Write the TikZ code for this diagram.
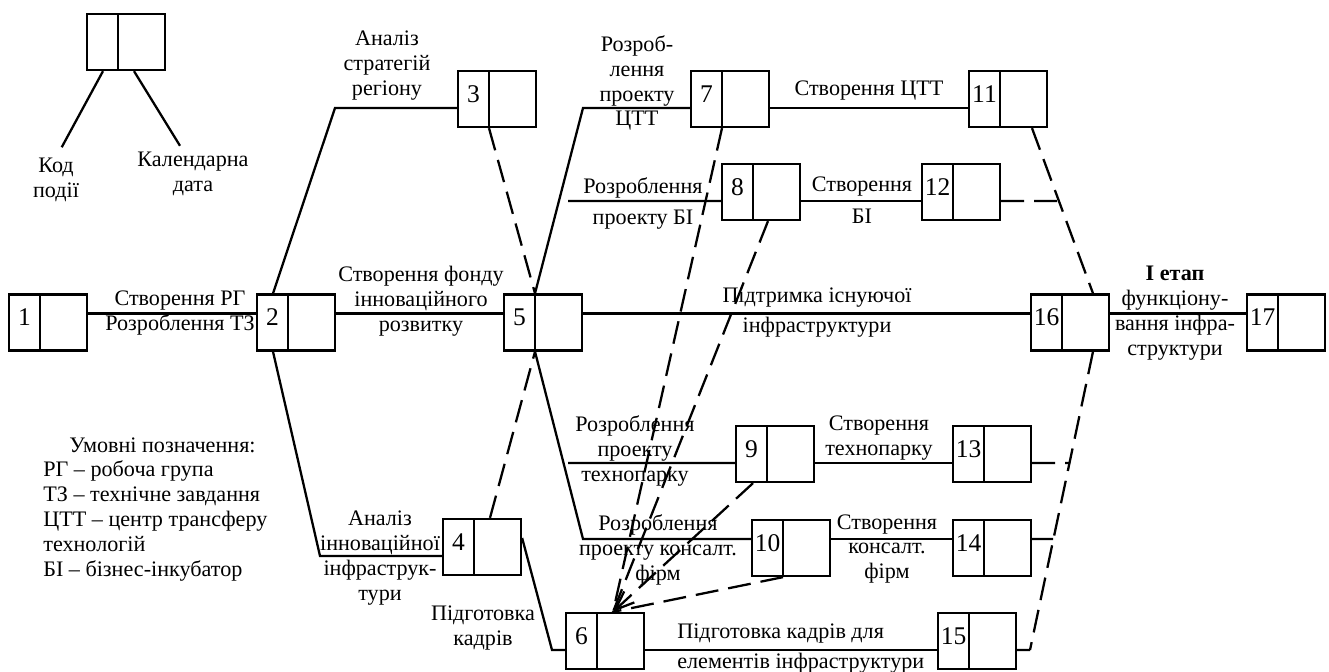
\documentclass[tikz,border=0pt]{standalone}
\usepackage{fontspec}
\setmainfont{Liberation Serif}
\usetikzlibrary{arrows.meta}
\tikzset{
  ev/.style={draw, line width=1.3pt, minimum width=1.56cm, minimum height=1.12cm, inner sep=0pt,
    path picture={\draw[line width=1.3pt] ([xshift=0.62cm]path picture bounding box.south west) -- ([xshift=0.62cm]path picture bounding box.north west);},
    label={[xshift=-0.47cm, yshift=0.1cm, font=\fontsize{14.5}{16}\selectfont]center:#1}},
  job/.style={line width=1.3pt},
  dep/.style={line width=1.3pt, dash pattern=on 0.46cm off 0.2cm},
  txt/.style={align=center, inner sep=0pt}
}

\begin{document}
\begin{tikzpicture}[x=0.02cm, y=-0.02cm, font=\fontsize{12.6}{14.2}\selectfont]
	\useasboundingbox (0,0) rectangle (1329,672);

	% key
	\node[ev={}] (key) at (126,42) {};
	\node[txt] (code) at (56,180) {Код\\події};
	\node[txt] (cal) at (193,174) {Календарна\\дата};
	\draw[job, shorten >=0.24cm] ([xshift=-0.46cm]key.south) -- (code.north);
	\draw[job] ([xshift=0.16cm]key.south) -- ([xshift=-0.26cm, yshift=0.12cm]cal.north);

	% events
	\node[ev=1] (e1) at (48,322.5) {};
	\node[ev=2] (e2) at (296,322.5) {};
	\node[ev=3] (e3) at (497,99) {};
	\node[ev=4] (e4) at (482,547) {};
	\node[ev=5] (e5) at (543,322.5) {};
	\node[ev=6] (e6) at (605,641) {};
	\node[ev=7] (e7) at (730,99) {};
	\node[ev=8] (e8) at (761,192) {};
	\node[ev=9] (e9) at (775,454) {};
	\node[ev=10] (e10) at (791,548) {};
	\node[ev=11] (e11) at (1008,99) {};
	\node[ev=12] (e12) at (961,192) {};
	\node[ev=13] (e13) at (992,454) {};
	\node[ev=14] (e14) at (992,548) {};
	\node[ev=15] (e15) at (977,641) {};
	\node[ev=16] (e16) at (1070,322.5) {};
	\node[ev=17] (e17) at (1286,322.5) {};

	\coordinate (c3) at (335,108);
	\coordinate (c4) at (320,556);
	\coordinate (c7) at (583,108);
	\coordinate (c10) at (583,539);
	\coordinate (c6) at (552,650);
	\coordinate (p8) at (568,201);
	\coordinate (p9) at (568,463);
	\coordinate (q12) at (1060,201);
	\coordinate (q13) at (1069,463);
	\coordinate (q14) at (1053,539);
	\coordinate (q15) at (1030,650);

	% works
	\draw[job] ([yshift=0.18cm]e1.east) -- ([yshift=0.18cm]e2.west);
	\draw[job] ([xshift=-0.46cm]e2.north) -- (c3) -- ([yshift=-0.18cm]e3.west);
	\draw[job] ([xshift=-0.46cm]e2.south) -- (c4) -- ([yshift=-0.18cm]e4.west);
	\draw[job] ([yshift=0.18cm]e2.east) -- ([yshift=0.18cm]e5.west);
	\draw[job] ([xshift=-0.16cm]e5.north) -- (c7) -- ([yshift=-0.18cm]e7.west);
	\draw[job] ([xshift=-0.16cm]e5.south) -- (c10) -- ([yshift=0.18cm]e10.west);
	\draw[job] (p8) -- ([yshift=-0.18cm]e8.west);
	\draw[job] (p9) -- ([yshift=-0.18cm]e9.west);
	\draw[job] ([yshift=0.18cm]e5.east) -- ([yshift=0.18cm]e16.west);
	\draw[job] ([yshift=0.18cm]e16.east) -- ([yshift=0.18cm]e17.west);
	\draw[job] ([yshift=-0.18cm]e7.east) -- ([yshift=-0.18cm]e11.west);
	\draw[job] ([yshift=-0.18cm]e8.east) -- ([yshift=-0.18cm]e12.west);
	\draw[job] ([yshift=-0.18cm]e9.east) -- ([yshift=-0.18cm]e13.west);
	\draw[job] ([yshift=0.18cm]e10.east) -- ([yshift=0.18cm]e14.west);
	\draw[job] ([yshift=0.18cm]e4.east) -- (c6) -- ([yshift=-0.18cm]e6.west);
	\draw[job] ([yshift=-0.18cm]e6.east) -- ([yshift=-0.18cm]e15.west);

	% dependencies
	\draw[dep] ([xshift=-0.16cm]e3.south) -- ([xshift=-0.16cm]e5.north);
	\draw[dep] ([xshift=0.16cm]e4.north) -- ([xshift=-0.16cm]e5.south);
	\draw[dep] ([xshift=0.48cm]e11.south) -- ([xshift=0.46cm]e16.north);
	\draw[dep] ([xshift=0.46cm]e16.south) -- (q15);
	\draw[dep] ([yshift=-0.18cm]e12.east) -- (q12);
	\draw[dep] ([yshift=-0.18cm]e13.east) -- (q13);
	\draw[dep] ([yshift=0.18cm]e14.east) -- (q14);
	\draw[dep] ([yshift=-0.18cm]e15.east) -- (q15);
	\draw[dep] ([xshift=-0.16cm]e7.south) -- ([xshift=0.16cm]e6.north);
	\draw[dep] ([xshift=0.14cm]e8.south) -- ([xshift=0.16cm]e6.north);
	\draw[dep, -{Straight Barb[length=0.38cm, width=0.3cm]}] ([xshift=-0.44cm]e9.south) -- ([xshift=0.16cm]e6.north);
	\draw[dep] ([xshift=-0.16cm]e10.south) -- ([xshift=0.16cm]e6.north);

	% labels
	\node[txt] (t12) at (180,313) {Створення РГ\\Розроблення ТЗ};
	\node[txt] (t23) at (387,66) {Аналіз\\стратегій\\регіону};
	\node[txt] (t24) at (380,558) {Аналіз\\інноваційної\\інфраструк-\\тури};
	\node[txt] (t25) at (421,301) {Створення фонду\\інноваційного\\розвитку};
	\node[txt] (t46) at (483,628) {Підготовка\\кадрів};
	\node[txt] (t57) at (637,83) {Розроб-\\лення\\проекту\\ЦТТ};
	\node[txt] (t58) at (643,203) {Розроблення\\[0.12cm]проекту БІ};
	\node[txt] (t59) at (635,451) {Розроблення\\проекту\\технопарку};
	\node[txt] (t510) at (658,550) {Розроблення\\проекту консалт.\\фірм};
	\node[txt] (t516) at (817,313) {Підтримка існуючої\\[0.1cm]інфраструктури};
	\node[txt] (t711) at (869,91) {Створення ЦТТ};
	\node[txt] (t812) at (862,200) {Створення\\[0.14cm]БІ};
	\node[txt] (t913) at (879,438) {Створення\\технопарку};
	\node[txt] (t1014) at (887,549) {Створення\\консалт.\\фірм};
	\node[txt, align=left, anchor=west] (t615) at (677,649) {Підготовка кадрів для\\[0.1cm]елементів інфраструктури};
	\node[txt] (t1617) at (1175,313) {\textbf{I етап}\\функціону-\\вання інфра-\\структури};

	\node[txt, align=left, anchor=north west] (legend) at (43,437) {\hspace{0.52cm}Умовні позначення:\\РГ – робоча група\\ТЗ – технічне завдання\\ЦТТ – центр трансферу\\технологій\\БІ – бізнес-інкубатор};
\end{tikzpicture}
\end{document}
